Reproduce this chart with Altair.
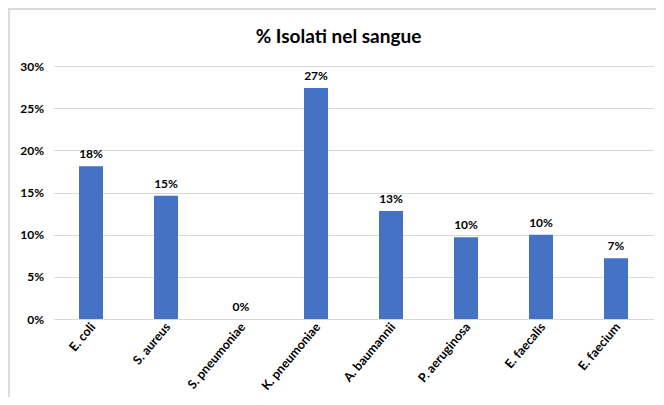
import altair as alt
import pandas as pd

categories = ["E. coli", "S. aureus", "S. pneumoniae", "K. pneumoniae",
              "A. baumannii", "P. aeruginosa", "E. faecalis", "E. faecium"]
values = [0.181, 0.146, 0.0, 0.274, 0.128, 0.097, 0.100, 0.072]
labels = ["18%", "15%", "0%", "27%", "13%", "10%", "10%", "7%"]
title_text = ["% Isolati nel sangue"]

df = pd.DataFrame({"cat": categories, "val": values, "lab": labels})
tdf = pd.DataFrame({"t": title_text})
FONT = "Lato"

x = alt.X("cat:N", sort=categories, title=None,
          scale=alt.Scale(paddingInner=0.68, paddingOuter=0.34),
          axis=alt.Axis(labels=False, ticks=False, domainColor="#d9d9d9", grid=False))
y = alt.Y("val:Q", title=None,
          scale=alt.Scale(domain=[0, 0.30], nice=False),
          axis=alt.Axis(format=".0%", values=[0, 0.05, 0.10, 0.15, 0.20, 0.25, 0.30],
                        labelFontWeight="bold", labelFontSize=12, labelColor="#000000",
                        labelFont=FONT, ticks=False, domain=False, gridColor="#d9d9d9",
                        labelPadding=10))

bars = alt.Chart(df).mark_bar(color="#4472C4").encode(x=x, y=y)
text = alt.Chart(df).mark_text(dy=-12, fontWeight="bold", fontSize=12, font=FONT,
                               color="#000000").encode(x=alt.X("cat:N", sort=categories),
                                                      y="val:Q", text="lab:N")
xlabels = alt.Chart(df).mark_text(angle=310, align="right", baseline="middle",
                                  fontWeight="bold", fontSize=12.5, font=FONT,
                                  color="#000000", dx=3).encode(
    x=alt.X("cat:N", sort=categories), y=alt.value(261), text="cat:N")

title = alt.Chart(tdf).mark_text(fontWeight="bold", fontSize=19, font=FONT,
                                 color="#000000", baseline="middle").encode(
    x=alt.value(285), y=alt.value(-29), text="t:N")

border_top = alt.Chart(df).mark_rule(color="#d9d9d9", strokeWidth=1.5).encode(
    x=alt.value(-45), x2=alt.value(620), y=alt.value(-57))
border_left = alt.Chart(df).mark_rule(color="#d9d9d9", strokeWidth=1.5).encode(
    x=alt.value(-45), y=alt.value(-57), y2=alt.value(400))

chart = alt.layer(bars, text, xlabels, title, border_top, border_left).properties(
    width=600, height=253,
    padding={"left": 45.5, "top": 58, "right": 2.5, "bottom": 78},
    autosize=alt.AutoSizeParams(type="none"),
).configure_view(stroke=None)

chart.save("out.html", embed_options={"renderer": "svg", "actions": False})
